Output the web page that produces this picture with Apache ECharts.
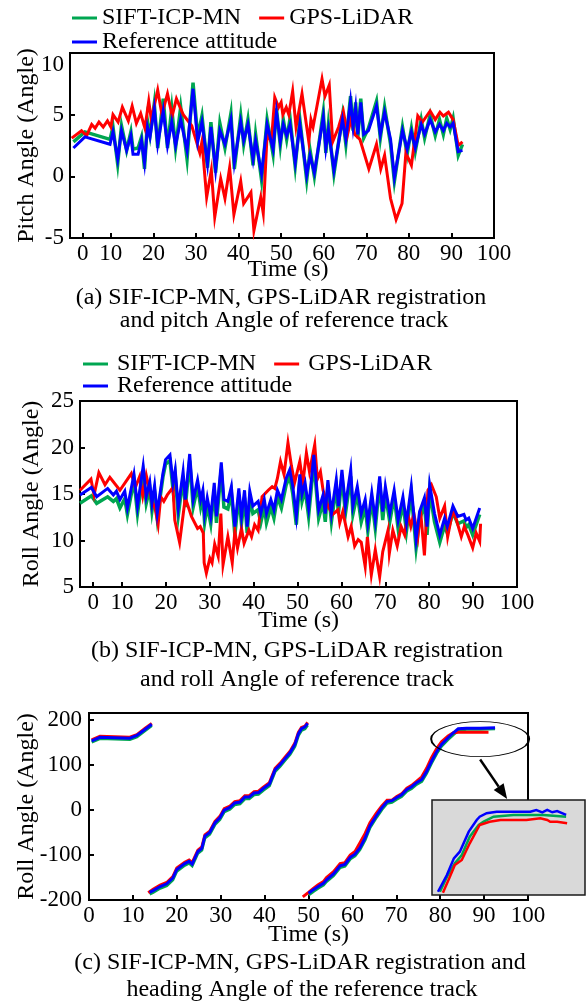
<!DOCTYPE html>
<html>
<head>
<meta charset="utf-8">
<script src="https://cdn.jsdelivr.net/npm/echarts@6/dist/echarts.min.js"></script>
<style>
  html, body { margin: 0; padding: 0; background: #fff; }
  #chart { width: 587px; height: 1004px; }
</style>
</head>
<body>
<div id="chart"></div>
<script>
// ---------------- data ----------------
const seriesNames = ['SIFT-ICP-MN', 'GPS-LiDAR', 'Reference attitude'];

// time axis ticks used by the pitch and roll panels
const timeTickAt = [3.4, 10, 20, 30, 40, 50, 60, 70, 80, 90, 100];
const timeTickLabels = ['0', '10', '20', '30', '40', '50', '60', '70', '80', '90', '100'];
const headingTicks = [-200, -100, 0, 100, 200];

// (a) pitch angle — reference attitude and SIFT-ICP-MN share sample times
const pitchTimeRef = [1.2, 3.9, 9.8,
  10.5, 11.6, 12.5, 13.7, 14.7, 15.2, 16.4, 17.2, 17.9, 18.6, 19.2,
  20.2, 21.0, 22.3, 23.3, 24.3, 25.2, 26.4, 27.9, 29.3,
  30.4, 31.4, 32.7, 33.5, 34.6, 35.6, 36.8, 38.2, 39.0,
  40.5, 41.2, 42.2, 43.4, 44.0, 45.4, 46.7, 48.1, 48.9, 49.8,
  50.5, 51.3, 52.1, 53.3, 54.4, 56.0, 56.8, 57.8, 59.9,
  60.5, 61.1, 62.4, 64.4, 65.2, 66.3, 66.9, 67.5, 68.0, 68.7, 69.4,
  70.5, 72.4, 73.3, 74.3, 75.7, 76.6, 78.5, 79.6,
  80.6, 81.5, 82.9, 83.7, 85.0, 86.2, 87.2, 88.1, 88.9, 89.7,
  90.4, 91.6, 92.6];
const pitchRef = [2.3, 3.2, 2.6,
  3.6, 1.4, 3.7, 2.1, 3.3, 1.8, 1.8, 2.9, 1.1, 4.0, 3.2,
  5.5, 2.6, 5.3, 2.5, 4.4, 2.5, 4.6, 2.1, 7.1,
  2.8, 4.4, 1.0, 4.0, 0.5, 3.7, 2.6, 4.6, 1.1,
  4.4, 2.9, 4.2, 1.4, 2.9, 0.2, 4.2, 2.2, 5.2, 2.8,
  4.2, 3.3, 4.2, 1.1, 4.2, 0.1, 1.7, 0.3, 4.8,
  2.3, 3.8, 0.5, 4.6, 3.0, 6.1, 4.0, 5.6, 3.4, 6.0, 3.4,
  3.7, 5.7, 3.4, 5.2, 3.0, -0.1, 3.7, 2.2,
  3.6, 2.3, 4.2, 3.4, 4.6, 3.6, 4.2, 3.7, 4.3, 4.0,
  4.3, 2.0, 2.1];
const pitchSift = [2.8, 3.6, 3.0,
  4.0, 1.0, 4.1, 2.1, 3.6, 2.2, 2.3, 3.2, 0.6, 4.5, 3.3,
  5.9, 2.3, 6.3, 2.3, 5.5, 2.3, 5.6, 1.4, 7.6,
  3.2, 4.9, 0.7, 4.4, 0.3, 4.3, 2.3, 5.1, 0.6,
  4.9, 2.6, 4.6, 0.9, 3.4, -0.3, 4.6, 1.8, 5.5, 2.5,
  4.6, 3.0, 4.7, 0.8, 4.6, -0.3, 2.1, 0.0, 5.2,
  1.9, 4.2, 0.2, 4.9, 2.6, 6.5, 3.7, 6.0, 3.1, 6.3, 3.1,
  3.9, 6.1, 3.1, 5.6, 2.6, -0.4, 4.0, 1.8,
  3.9, 2.0, 4.6, 3.1, 5.0, 3.3, 4.6, 3.4, 4.7, 3.8,
  4.7, 1.7, 2.6];
const pitchTimeGps = [0.8, 3.1, 4.3, 5.5, 6.3, 7.2, 8.2, 9.2,
  10.0, 10.5, 11.7, 12.7, 14.1, 15.0, 16.0, 17.0, 18.0, 18.9, 19.5,
  21.0, 22.0, 23.3, 24.4, 25.4, 27.0, 29.0,
  30.9, 31.4, 32.5, 33.6, 34.4, 35.8, 36.8, 37.9, 38.9,
  40.5, 41.2, 42.9, 43.6, 45.2, 45.8, 46.7, 47.7, 48.5, 49.4,
  50.0, 50.4, 51.2, 51.8, 52.7, 53.5, 54.9, 56.5, 57.0, 57.5, 59.6,
  60.3, 61.3, 62.1, 63.5, 64.6, 65.6, 66.4, 67.3, 68.5,
  70.6, 72.4, 73.4, 74.3, 75.7, 77.0, 78.4, 79.3,
  80.6, 82.1, 83.2, 85.0, 86.2, 87.3, 88.1, 89.3,
  90.4, 91.6, 92.6];
const pitchGps = [3.1, 3.7, 3.3, 4.2, 3.9, 4.4, 4.0, 4.5,
  4.0, 5.0, 4.4, 5.6, 4.5, 5.7, 4.3, 5.1, 3.9, 6.1, 4.6,
  7.0, 5.0, 6.7, 4.9, 6.3, 5.0, 4.1,
  1.9, 2.8, -1.7, 0.5, -3.3, -0.2, -1.8, 0.7, -3.1,
  -0.4, -2.2, -1.3, -4.4, -1.7, -3.0, 3.4, 2.8, 6.4, 5.6,
  6.0, 5.0, 5.6, 5.0, 6.9, 4.0, 6.7, 2.8, 4.6, 4.0, 7.9,
  6.5, 7.4, 2.8, 4.0, 5.3, 3.4, 4.6, 3.4, 3.0,
  0.6, 2.6, 0.6, 1.7, -1.8, -3.5, -2.2, 1.9,
  0.9, 4.9, 4.4, 5.3, 4.6, 5.2, 4.9, 5.2,
  4.6, 2.5, 2.8];

// (b) roll angle
const rollTimeRef = [0.4, 3.0, 4.2, 6.7, 8.0, 8.7, 9.5,
  10.6, 11.2, 12.7, 13.5, 14.8, 15.5, 16.3, 16.8, 17.4, 18.0, 19.3, 19.9,
  20.9, 21.6, 22.1, 22.8, 23.9, 24.4, 25.4, 26.2, 27.2, 27.9, 28.4, 28.8, 29.4,
  30.2, 31.0, 31.5, 32.6, 33.2, 34.1, 34.9, 35.7, 36.6, 37.2, 37.9, 38.5, 39.1, 39.8,
  41.0, 41.6, 42.4, 42.9, 43.9, 44.6, 45.4, 46.3, 47.4, 48.2, 48.9, 49.7,
  50.5, 51.0, 51.7, 52.5, 53.7, 54.8, 55.8, 56.3, 56.9, 57.7, 58.8, 59.3,
  60.1, 60.9, 62.1, 62.6, 63.6, 64.5, 65.4, 66.0, 66.9, 67.7, 68.7, 69.4,
  70.0, 71.0, 72.0, 72.9, 74.0, 74.8, 75.9, 77.0, 77.8, 78.9, 79.5,
  80.1, 81.2, 82.4, 83.5, 84.1, 85.4, 86.5, 87.9, 88.4, 89.0, 89.9,
  91.5];
const rollRef = [14.9, 15.7, 14.7, 15.6, 14.9, 15.3, 14.4,
  15.3, 13.5, 17.1, 13.7, 18.0, 14.7, 16.3, 14.0, 15.9, 12.9, 17.2, 18.7,
  19.2, 16.2, 17.6, 13.5, 17.4, 14.4, 19.3, 14.4, 16.5, 14.4, 15.4, 12.8, 14.6,
  12.6, 16.2, 12.6, 18.4, 14.4, 14.2, 15.8, 11.5, 15.6, 12.6, 15.4, 11.5, 15.3, 13.7,
  14.2, 12.9, 14.4, 12.9, 14.4, 13.3, 15.4, 14.4, 16.7, 17.6, 15.8, 12.6,
  17.1, 15.0, 16.2, 13.5, 19.2, 13.3, 14.9, 12.9, 16.5, 12.9, 16.5, 13.7,
  17.6, 13.7, 17.6, 13.7, 15.8, 12.9, 14.4, 11.9, 15.1, 12.2, 16.9, 13.1,
  15.8, 12.9, 15.4, 12.2, 14.7, 11.9, 15.8, 10.1, 13.1, 14.6, 11.5,
  16.0, 12.9, 10.6, 12.4, 11.5, 13.7, 12.6, 12.8, 12.2, 12.4, 11.3,
  13.5];
const rollSift = [14.0, 14.8, 14.0, 14.7, 14.2, 14.5, 13.5,
  14.5, 12.8, 16.5, 12.9, 17.3, 14.0, 15.6, 13.2, 15.2, 12.4, 16.8, 18.2,
  18.6, 15.5, 17.0, 12.7, 16.8, 13.6, 18.6, 13.6, 15.8, 13.6, 14.7, 11.9, 13.8,
  11.8, 15.5, 11.9, 17.7, 13.6, 13.4, 15.1, 10.6, 14.8, 11.8, 14.6, 10.8, 14.5, 12.9,
  13.3, 11.9, 13.6, 11.9, 13.6, 12.4, 14.7, 13.5, 16.0, 16.9, 15.0, 11.7,
  16.4, 14.2, 15.5, 12.6, 18.5, 12.4, 14.1, 12.0, 15.8, 12.0, 15.8, 12.9,
  16.9, 12.9, 16.9, 12.8, 15.0, 12.0, 13.6, 11.0, 14.4, 11.3, 16.2, 12.2,
  15.0, 12.0, 14.7, 11.3, 14.0, 11.0, 15.1, 9.2, 12.3, 13.8, 10.6,
  15.3, 12.0, 9.8, 11.6, 10.8, 13.0, 11.8, 12.1, 11.4, 11.7, 10.6,
  12.8];
const rollTimeGps = [0.4, 2.9, 3.6, 4.7, 6.1, 7.2, 9.5,
  12.1, 13.0, 14.0, 14.7, 15.5, 16.8, 17.5, 18.2, 18.8, 19.5,
  20.3, 21.6, 22.0, 23.1, 24.4, 25.8, 27.2, 27.8, 28.5, 28.7, 29.2,
  30.0, 30.5, 31.1, 31.9, 32.5, 33.0, 34.1, 35.1, 35.7, 36.3, 37.2, 37.8, 38.9, 39.5,
  40.2, 41.0, 41.9, 43.3, 44.2, 44.8, 45.4, 46.1, 46.9, 47.8, 48.6, 49.3,
  50.5, 51.2, 52.0, 52.7, 53.9, 54.5, 55.2, 55.8, 56.9, 58.0, 59.2, 59.6,
  60.3, 61.5, 62.2, 63.0, 63.8, 64.5, 65.4, 65.9, 66.8, 67.7, 68.7, 69.4,
  70.6, 70.9, 71.7, 72.7, 73.6, 74.4, 75.1, 75.8, 76.5, 77.4, 78.0, 78.9, 79.7,
  80.5, 81.6, 82.4, 83.5, 84.2, 85.4, 86.2, 87.3, 88.0, 88.8, 89.9,
  90.7, 91.5, 91.7];
const rollGps = [15.4, 16.6, 14.9, 17.3, 16.0, 16.8, 15.4,
  17.2, 15.7, 16.9, 14.8, 17.0, 14.2, 13.5, 11.7, 14.7, 14.2,
  14.9, 15.7, 12.2, 9.8, 14.6, 12.6, 11.3, 11.5, 10.8, 7.6, 6.5,
  8.1, 7.6, 9.6, 8.3, 12.9, 7.4, 10.4, 7.6, 11.0, 9.2, 11.3, 9.7, 11.1, 10.4,
  11.7, 11.1, 14.7, 15.4, 15.8, 15.6, 16.7, 18.5, 17.1, 20.5, 18.0, 16.2,
  18.5, 16.2, 19.4, 17.4, 20.3, 16.6, 17.4, 15.4, 13.7, 12.8, 13.3, 11.9,
  13.1, 10.4, 11.5, 9.4, 10.1, 9.8, 7.2, 10.4, 6.3, 9.0, 6.1, 8.8,
  11.1, 8.6, 11.1, 9.4, 11.5, 10.6, 12.9, 11.5, 12.9, 10.4, 13.3, 8.4, 15.4,
  16.0, 14.7, 12.4, 13.7, 10.4, 13.3, 12.2, 10.4, 11.5, 10.6, 9.2,
  10.8, 9.9, 11.8];

// (c) heading angle, wrapping at ±180 (null marks a wrap)
const headingTimeRef = [0.6, 2.5, 9.3, 10.9, 12.8, 14.3, null,
  13.8, 14.6, 16.2, 17.7, 19.1, 20.0, 21.8, 22.8, 23.5, 24.8, 25.7, 26.4, 27.5, 28.7, 29.8,
  30.8, 32.1, 33.2, 34.4, 35.5, 36.5, 37.6, 38.6, 39.7,
  41.1, 42.4, 43.5, 44.6, 45.8, 46.9, 47.7, 48.4, 49.2, 49.8, null,
  50.0, 51.1, 52.2, 53.4, 54.1, 55.7, 57.2, 58.3, 59.5,
  60.6, 61.7, 62.9, 64.0, 65.5, 66.7, 67.9, 69.0,
  70.1, 71.2, 72.4, 73.5, 74.6, 75.8, 76.9, 78.0, 79.2,
  80.3, 81.8, 83.0, 84.1, 86.0, 89.1, 92.5];
const headingRef = [154, 162, 160, 166, 180, 191, null,
  -183, -179, -170, -164, -151, -132, -119, -114, -120, -92, -85, -58, -50, -28, -17,
  0, 6, 16, 18, 29, 29, 38, 39, 48,
  58, 90, 101, 114, 128, 146, 170, 181, 185, 193, null,
  -185, -177, -170, -163, -155, -142, -124, -121, -105,
  -98, -84, -62, -35, -12, 5, 19, 21,
  28, 34, 46, 52, 61, 68, 86, 108, 130,
  146, 161, 172, 181, 182, 182, 183];
const headingSift = [151, 159, 157, 163, 177, 188, null,
  -187, -183, -174, -168, -155, -136, -123, -118, -124, -96, -89, -62, -54, -32, -21,
  -4, 2, 12, 14, 25, 25, 34, 35, 44,
  54, 86, 97, 110, 124, 142, 166, 177, 181, 189, null,
  -189, -181, -174, -167, -159, -146, -128, -125, -109,
  -102, -88, -66, -39, -16, 1, 15, 17,
  24, 30, 42, 48, 57, 64, 82, 104, 126,
  142, 157, 168, 177, 180, 180, 181];
const headingTimeGps = [0.6, 2.5, 9.3, 10.9, 12.8, 14.3, null,
  13.5, 14.6, 16.2, 17.7, 19.1, 20.0, 21.8, 22.8, 23.5, 24.8, 25.7, 26.4, 27.5, 28.7, 29.8,
  30.8, 32.1, 33.2, 34.4, 35.5, 36.5, 37.6, 38.6, 39.7,
  41.1, 42.4, 43.5, 44.6, 45.8, 46.9, 47.7, 48.4, 49.2, 49.8, null,
  48.7, 50.0, 51.1, 52.2, 53.4, 54.1, 55.7, 57.2, 58.3, 59.5,
  60.6, 61.7, 62.9, 64.0, 65.5, 66.7, 67.9, 69.0,
  70.1, 71.2, 72.4, 73.5, 74.6, 75.8, 76.9, 78.0, 79.2,
  80.3, 81.8, 83.0, 84.1, 86.0, 89.1, 91.0];
const headingGps = [156, 164, 162, 168, 182, 193, null,
  -184, -176, -167, -161, -148, -129, -116, -111, -117, -89, -82, -55, -47, -25, -14,
  3, 9, 19, 21, 32, 32, 41, 42, 51,
  61, 93, 104, 117, 131, 149, 173, 184, 187, 195, null,
  -193, -183, -174, -166, -159, -150, -137, -119, -117, -100,
  -92, -73, -52, -28, -6, 9, 22, 22,
  30, 36, 49, 55, 64, 74, 93, 116, 137,
  152, 165, 172, 173, 173, 173, 173];

// (c) magnified detail of the heading plateau
const insetTimeRef = [79.4, 80.3, 81.0, 81.6, 82.5, 83.3, 83.6, 84.3, 85.3, 88.7, 89.3, 89.9, 90.4, 90.9, 91.4, 92.3];
const insetRef = [97.5, 115.4, 133.4, 140.5, 162.0, 174.6, 178.1, 181.8, 183.4, 183.4, 185.3, 182.8, 185.3, 182.8, 184.2, 180.0];
const insetTimeSift = [79.6, 80.4, 81.1, 81.8, 82.6, 83.5, 84.0, 85.0, 87.0, 89.0, 90.0, 91.0, 92.3];
const insetSift = [97.5, 115.4, 128.0, 136.9, 156.6, 169.2, 172.7, 178.1, 180.0, 180.0, 180.0, 179.1, 178.1];
const insetTimeGps = [79.9, 80.6, 81.1, 81.8, 82.6, 83.6, 84.6, 85.7, 88.3, 89.7, 90.4, 90.7, 91.4, 92.4];
const insetGps = [96.4, 113.6, 126.2, 131.6, 149.5, 169.2, 172.7, 174.6, 174.6, 176.3, 174.6, 172.7, 172.7, 171.0];

// ---------------- chart ----------------
const FONT = '"Liberation Serif", "Times New Roman", serif';
const COLORS = { sift: '#00a651', gps: '#ff0000', ref: '#0000ff' };

function pairs(ts, vs) {
  return ts.map((t, i) => (t === null || vs[i] === null) ? ['-', '-'] : [t, vs[i]]);
}
function timeLabel(v) {
  let k = 0;
  timeTickAt.forEach((t, i) => { if (Math.abs(t - v) < Math.abs(timeTickAt[k] - v)) k = i; });
  return timeTickLabels[k];
}

const axisText = { color: '#000', fontFamily: FONT, fontSize: 23 };
const nameText = { color: '#000', fontFamily: FONT, fontSize: 24 };
const blackLine = { color: '#000', width: 2 };

function line(name, color, width, idx, data, z) {
  return {
    type: 'line', name, xAxisIndex: idx, yAxisIndex: idx, data,
    symbol: 'none', showSymbol: false, connectNulls: false,
    color, itemStyle: { color },
    lineStyle: { color, width, join: 'miter' },
    z, silent: true, animation: false, emphasis: { disabled: true }
  };
}

function timeAxis(gridIndex, nameGap, shift) {
  return {
    gridIndex, type: 'value', min: 0.4, max: 100,
    axisLine: { onZero: false, lineStyle: blackLine },
    axisTick: { inside: true, length: 5, lineStyle: blackLine, customValues: timeTickAt },
    axisLabel: Object.assign({ margin: 4, customValues: timeTickAt, formatter: timeLabel }, axisText),
    splitLine: { show: false },
    name: 'Time (s)', nameLocation: 'middle', nameGap, nameMoveOverlap: false,
    nameTextStyle: Object.assign({ padding: [0, 0, 0, shift] }, nameText)
  };
}
function valueAxis(gridIndex, min, max, interval, name, nameGap, topAlign) {
  const label = Object.assign({ margin: 6 }, axisText);
  if (topAlign) label.verticalAlignMaxLabel = 'top';
  return {
    gridIndex, type: 'value', min, max, interval,
    axisLine: { onZero: false, lineStyle: blackLine },
    axisTick: { inside: true, length: 5, lineStyle: blackLine },
    axisLabel: label,
    splitLine: { show: false },
    name, nameLocation: 'middle', nameGap, nameRotate: 90, nameMoveOverlap: false,
    nameTextStyle: nameText
  };
}

const INSET = { left: 432, top: 800, width: 153, height: 95 };

const legendBase = {
  icon: 'rect', itemWidth: 25, itemHeight: 3, padding: 0, itemGap: 18,
  selectedMode: false,
  textStyle: { color: '#000', fontFamily: FONT, fontSize: 24, lineHeight: 24 }
};
const legendPad = { color: '#000', fontFamily: FONT, fontSize: 24, lineHeight: 24, padding: [0, 0, 0, 4] };

function caption(x, y, text) {
  return {
    type: 'text', x, y, silent: true,
    style: { text, fill: '#000', fontFamily: FONT, fontSize: 24, align: 'center', verticalAlign: 'middle' }
  };
}

const chart = echarts.init(document.getElementById('chart'), null, { renderer: 'canvas' });

const option = {
  animation: false,
  backgroundColor: '#fff',
  legend: [
    Object.assign({}, legendBase, { data: [seriesNames[0], seriesNames[1]], left: 72, top: 6 }),
    Object.assign({}, legendBase, { data: [seriesNames[2]], left: 72, top: 30 }),
    Object.assign({}, legendBase, { data: [seriesNames[0], seriesNames[1]], left: 83, top: 352, textStyle: legendPad }),
    Object.assign({}, legendBase, { data: [seriesNames[2]], left: 83, top: 374, textStyle: legendPad })
  ],
  grid: [
    { left: 70, top: 53, width: 424, height: 185, show: true, borderColor: '#000', borderWidth: 2, outerBoundsMode: 'none' },
    { left: 80, top: 401, width: 437, height: 186, show: true, borderColor: '#000', borderWidth: 2, outerBoundsMode: 'none' },
    { left: 89, top: 713, width: 439, height: 187, show: true, borderColor: '#000', borderWidth: 2, outerBoundsMode: 'none' },
    Object.assign({ show: true, backgroundColor: '#d9d9d9', borderColor: '#1a1a1a', borderWidth: 1.5, z: 5, outerBoundsMode: 'none' }, INSET)
  ],
  xAxis: [
    timeAxis(0, 20, 12),
    timeAxis(1, 22, 0),
    {
      gridIndex: 2, type: 'value', min: 0, max: 100, interval: 10,
      axisLine: { onZero: false, lineStyle: blackLine },
      axisTick: { inside: true, length: 5, lineStyle: blackLine },
      axisLabel: Object.assign({ margin: 4 }, axisText),
      splitLine: { show: false },
      name: 'Time (s)', nameLocation: 'middle', nameGap: 23, nameMoveOverlap: false, nameTextStyle: nameText
    },
    { gridIndex: 3, type: 'value', min: 78.8, max: 94.2, show: false, splitLine: { show: false } }
  ],
  yAxis: [
    valueAxis(0, -5, 10, 5, 'Pitch Angle (Angle)', 31, true),
    valueAxis(1, 5, 25, 5, 'Roll Angle (Angle)', 36, false),
    {
      gridIndex: 2, type: 'value', min: -200, max: 216,
      axisLine: { onZero: false, lineStyle: blackLine },
      axisTick: { inside: true, length: 5, lineStyle: blackLine, customValues: headingTicks },
      axisLabel: Object.assign({ margin: 7, customValues: headingTicks }, axisText),
      splitLine: { show: false },
      name: 'Roll Angle (Angle)', nameLocation: 'middle', nameGap: 50, nameRotate: 90, nameMoveOverlap: false,
      nameTextStyle: nameText
    },
    { gridIndex: 3, type: 'value', min: 94, max: 196, show: false, splitLine: { show: false } }
  ],
  series: [
    line(seriesNames[0], COLORS.sift, 3.5, 0, pairs(pitchTimeRef, pitchSift), 2),
    line(seriesNames[1], COLORS.gps, 3, 0, pairs(pitchTimeGps, pitchGps), 3),
    line(seriesNames[2], COLORS.ref, 3, 0, pairs(pitchTimeRef, pitchRef), 4),

    line(seriesNames[0], COLORS.sift, 3.5, 1, pairs(rollTimeRef, rollSift), 2),
    line(seriesNames[1], COLORS.gps, 3, 1, pairs(rollTimeGps, rollGps), 3),
    line(seriesNames[2], COLORS.ref, 3, 1, pairs(rollTimeRef, rollRef), 4),

    line(seriesNames[0], COLORS.sift, 3, 2, pairs(headingTimeRef, headingSift), 2),
    line(seriesNames[1], COLORS.gps, 3, 2, pairs(headingTimeGps, headingGps), 3),
    line(seriesNames[2], COLORS.ref, 3, 2, pairs(headingTimeRef, headingRef), 4),

    line(seriesNames[0], COLORS.sift, 2.5, 3, pairs(insetTimeSift, insetSift), 7),
    line(seriesNames[1], COLORS.gps, 2.5, 3, pairs(insetTimeGps, insetGps), 8),
    line(seriesNames[2], COLORS.ref, 2.5, 3, pairs(insetTimeRef, insetRef), 9)
  ],
  graphic: [
    caption(281, 298, '(a) SIF-ICP-MN, GPS-LiDAR registration'),
    caption(284, 321, 'and pitch Angle of reference track'),
    caption(297, 651, '(b) SIF-ICP-MN, GPS-LiDAR registration'),
    caption(297, 680, 'and roll Angle of reference track'),
    caption(300, 963, '(c) SIF-ICP-MN, GPS-LiDAR registration and'),
    caption(302, 990, 'heading Angle of the reference track')
  ]
};
chart.setOption(option);

// callout: ellipse around the heading plateau and an arrow down to the magnified box
const c = chart.convertToPixel({ gridIndex: 2 }, [89.1, 158]);
const rx = 49, ry = 17.5;
const start = [c[0], c[1] + ry + 3];
const end = [c[0] + 27, INSET.top - 1];
const dx = end[0] - start[0], dy = end[1] - start[1];
const len = Math.sqrt(dx * dx + dy * dy);
const ux = dx / len, uy = dy / len;
const headLen = 15, headHalf = 6;
const base = [end[0] - ux * headLen, end[1] - uy * headLen];
chart.setOption({
  graphic: option.graphic.concat([
    {
      type: 'circle', x: c[0], y: c[1], scaleY: ry / rx, z: 20, silent: true,
      shape: { cx: 0, cy: 0, r: rx },
      style: { fill: 'none', stroke: '#000', lineWidth: 2, strokeNoScale: true }
    },
    {
      type: 'line', z: 20, silent: true,
      shape: { x1: start[0], y1: start[1], x2: base[0], y2: base[1] },
      style: { stroke: '#000', lineWidth: 2.5 }
    },
    {
      type: 'polygon', z: 20, silent: true,
      shape: { points: [end, [base[0] - uy * headHalf, base[1] + ux * headHalf], [base[0] + uy * headHalf, base[1] - ux * headHalf]] },
      style: { fill: '#000' }
    }
  ])
});
</script>
</body>
</html>
